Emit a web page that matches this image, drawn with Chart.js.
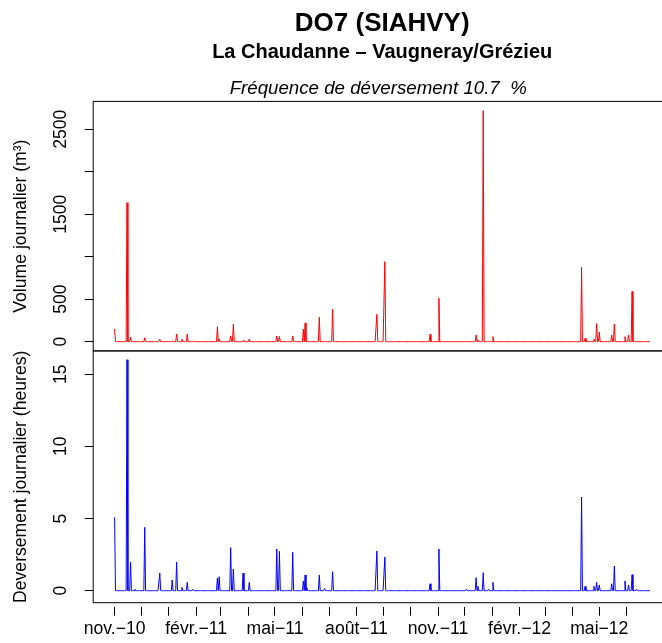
<!DOCTYPE html>
<html>
<head>
<meta charset="utf-8">
<script src="https://cdn.jsdelivr.net/npm/chart.js@4.4.1/dist/chart.umd.min.js"></script>
<style>
  html, body { margin: 0; padding: 0; background: #fff; overflow: hidden; }
  #wrap { position: relative; width: 662px; height: 643px; overflow: hidden; background: #fff; }
  canvas { position: absolute; left: 0; top: 0; }
</style>
</head>
<body>
<div id="wrap">
  <canvas id="volChart" width="764" height="643"></canvas>
  <canvas id="hourChart" width="764" height="643"></canvas>
</div>
<script>
// période couverte par les mesures journalières
const startDate = "2010-11-01";
const endDate = "2012-06-27";

// jours avec déversement (les autres jours valent 0)
const eventDates = [
  "2010-11-01", "2010-11-15", "2010-11-19", "2010-11-24", "2010-12-05", "2010-12-22",
  "2011-01-05", "2011-01-10", "2011-01-16", "2011-01-22", "2011-01-28", "2011-02-25",
  "2011-02-27", "2011-03-12", "2011-03-15", "2011-03-26", "2011-04-02", "2011-05-03",
  "2011-05-06", "2011-05-21", "2011-06-02", "2011-06-04", "2011-06-06", "2011-06-20",
  "2011-06-26", "2011-07-05", "2011-08-24", "2011-09-02", "2011-10-23", "2011-11-02",
  "2011-12-03", "2011-12-14", "2011-12-16", "2011-12-22", "2011-12-28", "2012-01-02",
  "2012-04-11", "2012-04-15", "2012-04-25", "2012-04-28", "2012-05-01", "2012-05-15",
  "2012-05-18", "2012-05-30", "2012-06-03", "2012-06-07", "2012-06-12"
];
// volume journalier (m³)
const volumes = [
  149, 1635, 52, 5, 47, 28,
  10, 90, 28, 90, 5, 176,
  30, 67, 205, 12, 32, 67,
  62, 67, 149, 220, 10, 287,
  5, 381, 322, 941, 87, 512,
  3, 79, 20, 2718, 5, 59,
  875, 40, 28, 212, 114, 79,
  208, 59, 79, 590, 5
];
// durée de déversement journalière (heures)
const hours = [
  5.08, 16.0, 1.99, 0.1, 4.39, 1.22,
  0.74, 1.99, 0.23, 0.58, 0.1, 0.88,
  0.97, 2.98, 1.5, 1.22, 0.58, 2.89,
  2.72, 2.66, 0.67, 1.09, 0.2, 1.09,
  0.15, 1.32, 2.75, 2.33, 0.48, 2.89,
  0.1, 0.9, 0.3, 1.25, 0.1, 0.58,
  6.49, 0.3, 0.3, 0.58, 0.4, 0.48,
  1.71, 0.67, 0.4, 1.11, 0.1
];

// graduations de l'axe des dates (une par mois, étiquette tous les 3 mois)
const monthTicks = [
  "2010-11-01", "2010-12-01", "2011-01-01", "2011-02-01", "2011-03-01", "2011-04-01",
  "2011-05-01", "2011-06-01", "2011-07-01", "2011-08-01", "2011-09-01", "2011-10-01",
  "2011-11-01", "2011-12-01", "2012-01-01", "2012-02-01", "2012-03-01", "2012-04-01",
  "2012-05-01", "2012-06-01"
];
const monthLabels = [
  "nov.−10", "", "", "févr.−11", "", "", "mai−11", "", "", "août−11", "", "",
  "nov.−11", "", "", "févr.−12", "", "", "mai−12", ""
];
const volTicks = [0, 500, 1000, 1500, 2000, 2500];
const volTickLabels = ["0", "500", "", "1500", "", "2500"];
const hourTicks = [0, 5, 10, 15];
const hourTickLabels = ["0", "5", "10", "15"];

const FONT = "'Liberation Sans', Arial, Helvetica, sans-serif";
Chart.defaults.font.family = FONT;
Chart.defaults.font.size = 17.6;
Chart.defaults.color = "#000";

const DAY = 86400000;
const t0 = Date.parse(startDate + "T00:00:00Z");
const dayOf = s => Math.round((Date.parse(s + "T00:00:00Z") - t0) / DAY);
const nDays = dayOf(endDate);

function dailySeries(values) {
  const pts = [];
  for (let d = 0; d <= nDays; d++) pts.push({ x: d, y: 0 });
  eventDates.forEach((s, i) => { pts[dayOf(s)].y = values[i]; });
  return pts;
}

const tickDays = monthTicks.map(dayOf);
const pad = nDays * 0.04;

const framePlugin = {
  id: "frame",
  afterDraw(chart) {
    const { ctx, chartArea: a } = chart;
    ctx.save();
    ctx.strokeStyle = "#000";
    ctx.lineWidth = 1;
    ctx.strokeRect(a.left, a.top, a.right - a.left, a.bottom - a.top);
    ctx.restore();
  }
};

const titlesPlugin = {
  id: "titles",
  afterDraw(chart) {
    const { ctx, chartArea: a } = chart;
    const cx = (a.left + a.right) / 2;
    ctx.save();
    ctx.fillStyle = "#000";
    ctx.textAlign = "center";
    ctx.textBaseline = "alphabetic";
    ctx.font = "bold 26px " + FONT;
    ctx.fillText("DO7 (SIAHVY)", cx, 30.5);
    ctx.font = "bold 20px " + FONT;
    ctx.fillText("La Chaudanne – Vaugneray/Grézieu", cx, 57.5);
    ctx.font = "italic 18.7px " + FONT;
    ctx.fillText("Fréquence de déversement 10.7  %", cx - 4, 93.5);
    ctx.restore();
  }
};

function xAxis(show) {
  return {
    type: "linear",
    display: show,
    min: -pad,
    max: nDays + pad,
    afterBuildTicks: s => { s.ticks = tickDays.map(v => ({ value: v })); },
    ticks: {
      autoSkip: false, minRotation: 0, maxRotation: 0, padding: 3,
      callback: (v, i) => monthLabels[i]
    },
    grid: {
      drawOnChartArea: false, drawTicks: true, tickLength: 13,
      tickColor: "#000", tickWidth: 1, tickBorderDash: [0, 4, 9, 40]
    },
    border: { display: false },
    afterFit: s => { s.height = show ? 40.3 : 0; }
  };
}

function yAxis(min, max, ticks, labels, title, labelPad) {
  return {
    type: "linear",
    min: min,
    max: max,
    afterBuildTicks: s => { s.ticks = ticks.map(v => ({ value: v })); },
    ticks: {
      autoSkip: false, minRotation: 90, maxRotation: 90, crossAlign: "center", padding: labelPad,
      callback: (v, i) => labels[i]
    },
    grid: { drawOnChartArea: false, drawTicks: true, tickLength: 8.5, tickColor: "#000", tickWidth: 1 },
    border: { display: false },
    title: { display: true, text: title, padding: { top: 10.5, bottom: 0 }, font: { size: 17.6 } },
    afterFit: s => { s.width = 93.2; }
  };
}

const baseOptions = {
  responsive: false,
  animation: false,
  events: [],
  plugins: { legend: { display: false }, tooltip: { enabled: false } },
  elements: { point: { radius: 0 }, line: { tension: 0 } }
};

new Chart(document.getElementById("volChart"), {
  type: "line",
  data: {
    datasets: [{
      data: dailySeries(volumes),
      borderColor: "#ff0000",
      borderWidth: 1,
      fill: false
    }]
  },
  options: {
    ...baseOptions,
    layout: { padding: { left: 0, right: 92.8, top: 101.4, bottom: 292.1 } },
    scales: {
      x: xAxis(false),
      y: yAxis(-108.7, 2826.7, volTicks, volTickLabels, "Volume journalier (m³)", 4.1)
    }
  },
  plugins: [framePlugin, titlesPlugin]
});

new Chart(document.getElementById("hourChart"), {
  type: "line",
  data: {
    datasets: [{
      data: dailySeries(hours),
      borderColor: "#0000ff",
      borderWidth: 1,
      fill: false
    }]
  },
  options: {
    ...baseOptions,
    layout: { padding: { left: 0, right: 92.8, top: 350.9, bottom: 0 } },
    scales: {
      x: xAxis(true),
      y: yAxis(-0.831, 16.61, hourTicks, hourTickLabels, "Deversement journalier (heures)", 13.9)
    }
  },
  plugins: [framePlugin]
});
</script>
</body>
</html>
